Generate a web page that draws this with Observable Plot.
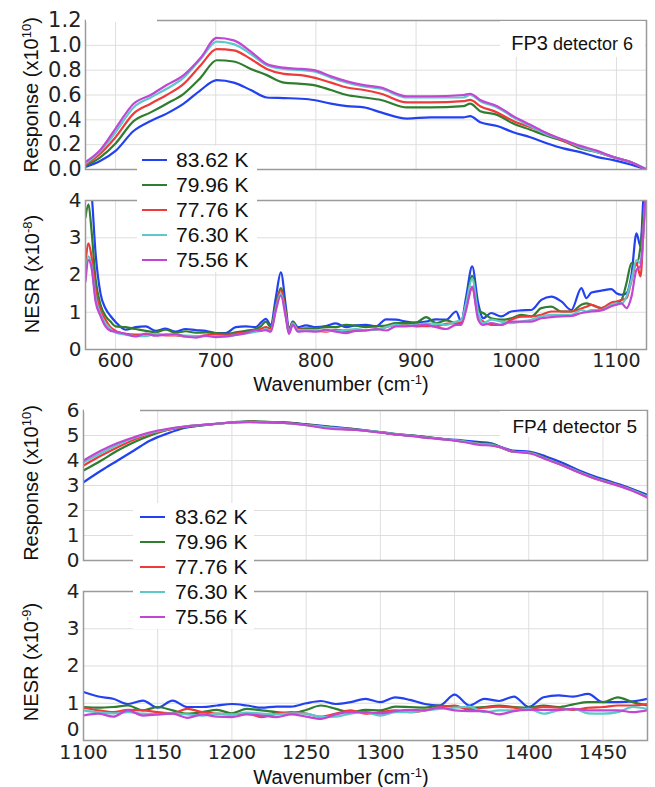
<!DOCTYPE html>
<html>
<head>
<meta charset="utf-8">
<script src="https://cdn.jsdelivr.net/npm/d3@7"></script>
<script src="https://cdn.jsdelivr.net/npm/@observablehq/plot@0.6"></script>
<style>
  body { margin: 0; background: #fff; }
  #wrap { position: relative; width: 655px; height: 787px; overflow: hidden; font-family: "Liberation Sans", Arial, sans-serif; color: #111; }
  #wrap svg { position: absolute; left: 0; }
  .ylab { position: absolute; transform: translate(-50%, -50%) rotate(-90deg); white-space: nowrap; font-size: 20px; line-height: 1; }
  .xlab { position: absolute; transform: translate(-50%, -50%); white-space: nowrap; font-size: 20px; line-height: 1; }
  sup { font-size: 65%; line-height: 0; vertical-align: 0.55em; }
  .box { position: absolute; background: #fff; z-index: 5; }
  .lrow { position: absolute; left: 0; height: 24px; }
  .lrow .smp { position: absolute; top: 11px; width: 25px; height: 2px; }
  .lrow .txt { position: absolute; top: 1px; font-size: 21px; line-height: 21px; white-space: nowrap; }
  .note { position: absolute; white-space: nowrap; line-height: 1; z-index: 6; color: #111; }
</style>
</head>
<body>
<div id="wrap"></div>
<script>
// ---------------- data ----------------
const seriesNames = ["83.62 K", "79.96 K", "77.76 K", "76.30 K", "75.56 K"];
const seriesColors = ["#2241f0", "#2f7d2f", "#ee3a3a", "#5cc8c8", "#c246d4"];

// FP3 detector 6 — Response (x10^10)
const resp1X = [570,585,600,618,635,651,668,685,701,718,735,751,768,785,798,815,831,848,865,891,914,947,954,964,981,997,1014,1031,1047,1064,1081,1097,1114,1130];
const resp1_8362 = [0.02,0.07,0.15,0.31,0.39,0.45,0.53,0.64,0.72,0.70,0.64,0.58,0.575,0.57,0.56,0.53,0.51,0.50,0.46,0.41,0.42,0.42,0.43,0.38,0.35,0.30,0.26,0.21,0.17,0.14,0.10,0.075,0.04,0.0];
const resp1_7996 = [0.03,0.10,0.21,0.39,0.46,0.53,0.61,0.74,0.88,0.87,0.81,0.76,0.70,0.69,0.68,0.64,0.60,0.58,0.56,0.50,0.50,0.51,0.53,0.47,0.44,0.37,0.32,0.27,0.23,0.17,0.14,0.10,0.06,0.0];
const resp1_7776 = [0.04,0.13,0.26,0.45,0.53,0.60,0.69,0.84,0.97,0.96,0.89,0.81,0.77,0.76,0.74,0.70,0.66,0.64,0.61,0.54,0.54,0.55,0.56,0.51,0.46,0.39,0.34,0.29,0.23,0.18,0.14,0.10,0.06,0.0];
const resp1_7630 = [0.05,0.15,0.30,0.50,0.58,0.65,0.74,0.89,1.03,1.01,0.93,0.84,0.81,0.80,0.79,0.74,0.70,0.67,0.65,0.58,0.58,0.58,0.60,0.55,0.50,0.42,0.35,0.28,0.24,0.18,0.14,0.10,0.06,0.0];
const resp1_7556 = [0.06,0.16,0.33,0.53,0.60,0.68,0.76,0.90,1.06,1.04,0.95,0.85,0.82,0.81,0.80,0.75,0.71,0.68,0.66,0.59,0.59,0.60,0.61,0.56,0.51,0.43,0.36,0.29,0.24,0.19,0.15,0.10,0.06,0.0];

// FP3 detector 6 — NESR (x10^-8)
const nesr1X = [570,573,576,580,585,590,595,600,610,620,630,640,650,660,670,680,690,700,710,720,730,740,745,750,755,760,765,770,773,777,782,790,800,810,820,830,840,850,860,870,880,890,900,910,920,930,940,945,950,956,962,967,975,985,995,1005,1015,1025,1035,1045,1055,1065,1070,1075,1085,1095,1100,1105,1110,1115,1120,1124,1127,1130];
const nesr1_8362 = [4.6,4.6,4.2,2.6,1.5,1.1,0.9,0.74,0.53,0.6,0.62,0.5,0.56,0.48,0.55,0.52,0.5,0.44,0.44,0.6,0.62,0.6,0.72,0.82,0.66,1.4,2.07,1.15,0.55,0.75,0.6,0.65,0.6,0.63,0.7,0.6,0.65,0.66,0.62,0.81,0.8,0.75,0.72,0.75,0.81,0.8,1.02,0.75,1.42,2.23,1.24,0.84,0.98,0.89,1.02,1.05,1.06,1.33,1.42,1.29,1.06,1.65,1.38,1.53,1.58,1.62,1.51,1.47,1.51,2.0,3.12,2.77,4.1,4.6];
const nesr1_7996 = [3.55,3.9,3.2,1.9,1.2,0.9,0.75,0.62,0.6,0.55,0.5,0.47,0.53,0.45,0.49,0.45,0.46,0.44,0.42,0.46,0.5,0.55,0.62,0.75,0.6,1.2,1.65,1.0,0.45,0.75,0.55,0.57,0.57,0.6,0.6,0.66,0.64,0.6,0.62,0.64,0.71,0.71,0.72,0.87,0.71,0.78,0.71,0.75,1.24,1.98,1.06,0.98,0.84,0.8,0.84,0.93,0.89,1.11,1.15,1.02,1.02,1.2,1.24,1.2,1.11,1.2,1.24,1.33,1.78,2.32,2.27,2.77,3.57,4.6];
const nesr1_7776 = [2.3,2.85,2.5,1.6,1.05,0.8,0.6,0.5,0.42,0.4,0.4,0.4,0.38,0.38,0.35,0.35,0.38,0.4,0.37,0.43,0.45,0.5,0.55,0.6,0.55,1.1,1.6,0.95,0.48,0.7,0.55,0.52,0.5,0.48,0.53,0.5,0.5,0.52,0.53,0.6,0.66,0.66,0.62,0.63,0.62,0.69,0.71,0.71,1.15,1.65,0.9,0.75,0.66,0.66,0.8,0.88,0.89,0.93,1.02,1.02,1.02,1.1,1.15,1.2,1.11,1.26,1.29,1.33,1.38,1.85,2.32,1.96,3.2,4.6];
const nesr1_7630 = [2.05,2.5,2.25,1.4,0.95,0.7,0.55,0.45,0.4,0.36,0.36,0.42,0.4,0.39,0.37,0.36,0.36,0.36,0.35,0.39,0.43,0.48,0.5,0.55,0.5,1.1,1.5,0.9,0.45,0.7,0.52,0.52,0.52,0.5,0.5,0.52,0.55,0.52,0.53,0.6,0.66,0.64,0.66,0.7,0.69,0.66,0.75,0.78,1.24,1.91,0.98,0.71,0.8,0.75,0.71,0.75,0.8,0.89,0.93,0.93,0.93,1.06,1.02,1.06,1.06,1.2,1.24,1.24,1.42,1.87,2.4,2.32,3.2,4.6];
const nesr1_7556 = [1.83,2.4,2.2,1.3,0.9,0.62,0.5,0.48,0.42,0.35,0.43,0.37,0.4,0.41,0.35,0.32,0.37,0.33,0.35,0.39,0.44,0.52,0.5,0.52,0.48,1.05,1.45,0.85,0.42,0.66,0.48,0.49,0.48,0.53,0.48,0.44,0.5,0.51,0.55,0.51,0.62,0.62,0.64,0.66,0.6,0.55,0.66,0.66,1.07,1.69,0.8,0.66,0.71,0.66,0.75,0.75,0.75,0.84,0.87,0.89,0.9,0.98,1.0,1.02,1.05,1.16,1.2,1.24,1.11,1.42,2.14,2.23,3.2,4.6];

// FP4 detector 5 — Response (x10^10)
const resp2X = [1100,1112,1123,1134,1145,1157,1168,1179,1190,1201,1212,1224,1235,1246,1266,1284,1300,1311,1322,1334,1345,1356,1367,1374,1381,1389,1401,1412,1423,1434,1446,1457,1468,1480];
const resp2_8362 = [3.13,3.6,4.0,4.4,4.8,5.09,5.3,5.4,5.47,5.53,5.56,5.53,5.53,5.47,5.36,5.25,5.13,5.04,5.0,4.92,4.85,4.80,4.74,4.70,4.55,4.40,4.35,4.15,3.9,3.6,3.33,3.12,2.9,2.62];
const resp2_7996 = [3.6,4.0,4.4,4.73,5.0,5.23,5.33,5.4,5.47,5.53,5.57,5.55,5.52,5.47,5.33,5.24,5.14,5.06,5.0,4.92,4.84,4.77,4.68,4.68,4.53,4.36,4.32,4.08,3.82,3.55,3.28,3.08,2.86,2.56];
const resp2_7776 = [3.8,4.2,4.53,4.83,5.07,5.23,5.35,5.42,5.47,5.52,5.55,5.53,5.5,5.45,5.30,5.22,5.12,5.04,4.98,4.9,4.84,4.75,4.66,4.62,4.52,4.36,4.3,4.05,3.8,3.52,3.25,3.07,2.85,2.52];
const resp2_7630 = [3.93,4.3,4.63,4.9,5.1,5.25,5.36,5.42,5.47,5.52,5.54,5.52,5.5,5.44,5.32,5.22,5.13,5.05,4.98,4.9,4.84,4.77,4.66,4.64,4.53,4.36,4.3,4.06,3.8,3.54,3.26,3.06,2.85,2.55];
const resp2_7556 = [4.0,4.4,4.7,4.93,5.13,5.27,5.36,5.42,5.47,5.52,5.53,5.52,5.5,5.44,5.27,5.22,5.12,5.04,4.97,4.89,4.83,4.74,4.62,4.60,4.53,4.36,4.28,4.04,3.8,3.52,3.25,3.05,2.83,2.52];

// FP4 detector 5 — NESR (x10^-9)
const nesr2X = [1100,1110,1120,1130,1140,1150,1160,1170,1180,1190,1200,1210,1220,1230,1240,1250,1260,1270,1280,1290,1300,1310,1320,1330,1340,1350,1360,1370,1380,1390,1400,1410,1420,1430,1440,1450,1460,1470,1480];
const nesr2_8362 = [1.30,1.18,1.12,0.98,1.07,0.88,1.07,0.90,0.90,0.94,0.98,0.94,0.88,0.91,0.91,1.00,1.06,0.98,1.03,1.12,1.03,1.16,1.09,0.98,0.94,1.23,0.94,1.12,1.06,1.18,0.90,1.16,1.21,1.18,1.25,1.03,1.03,1.05,1.12];
const nesr2_7996 = [0.90,0.88,0.90,0.94,0.81,0.90,0.81,0.72,0.76,0.82,0.73,0.85,0.81,0.76,0.73,0.82,0.94,0.85,0.76,0.82,0.81,0.91,0.90,0.88,0.94,0.90,0.88,0.90,0.94,0.90,0.88,0.94,0.90,0.97,1.03,1.03,1.16,1.03,0.94];
const nesr2_7776 = [0.88,0.81,0.76,0.82,0.81,0.76,0.73,0.85,0.76,0.72,0.70,0.73,0.63,0.72,0.76,0.72,0.64,0.72,0.81,0.72,0.76,0.81,0.76,0.81,0.90,0.94,0.82,0.88,0.91,0.88,0.85,0.90,0.88,0.82,0.88,0.90,0.94,0.94,0.98];
const nesr2_7630 = [0.81,0.76,0.73,0.76,0.72,0.70,0.73,0.70,0.67,0.72,0.70,0.75,0.72,0.70,0.73,0.72,0.63,0.64,0.72,0.76,0.67,0.76,0.76,0.81,0.85,0.88,0.91,0.76,0.81,0.81,0.85,0.72,0.81,0.85,0.73,0.72,0.76,0.90,0.85];
const nesr2_7556 = [0.67,0.72,0.64,0.81,0.67,0.70,0.72,0.61,0.70,0.64,0.63,0.70,0.67,0.63,0.70,0.64,0.58,0.70,0.76,0.76,0.73,0.79,0.82,0.81,0.88,0.81,0.79,0.79,0.70,0.79,0.82,0.82,0.82,0.85,0.81,0.81,0.81,0.76,0.81];

// tick labels
const xTicksTop = [600, 700, 800, 900, 1000, 1100];
const xTicksBottom = [1100, 1150, 1200, 1250, 1300, 1350, 1400, 1450];
const yTicksResp1 = [0, 0.2, 0.4, 0.6, 0.8, 1.0, 1.2];
const yTicksNesr = [0, 1, 2, 3, 4];
const yTicksResp2 = [0, 1, 2, 3, 4, 5, 6];

// ---------------- drawing ----------------
const wrap = document.getElementById("wrap");

function longTable(xs, seriesList) {
  const rows = [];
  seriesList.forEach((vals, i) => vals.forEach((v, j) => rows.push({x: xs[j], y: v, k: seriesNames[i]})));
  return rows;
}

function panel(cfg) {
  const yMain = cfg.liftZero ? cfg.yTicks.filter(d => d !== 0) : cfg.yTicks;
  const marks = [
    Plot.gridX(cfg.xTicks, {stroke: "#dedede", strokeOpacity: 1, strokeWidth: 1}),
    Plot.gridY(cfg.yTicks, {stroke: "#dedede", strokeOpacity: 1, strokeWidth: 1}),
    Plot.line(cfg.data, {x: "x", y: "y", z: "k", stroke: "k", strokeWidth: 2.2, curve: "monotone-x", clip: true}),
    Plot.frame({stroke: "#9a9a9a", strokeWidth: 1.5}),
    Plot.axisY(yMain, {anchor: "left", tickSize: 0, tickPadding: 4, fontSize: cfg.yFont, fill: "#222", label: null, tickFormat: cfg.yFmt})
  ];
  if (cfg.liftZero) {
    marks.push(Plot.axisY([0], {anchor: "left", tickSize: 0, tickPadding: 4, fontSize: cfg.yFont, fill: "#222", label: null, dy: -11, tickFormat: cfg.yFmt}));
  }
  if (cfg.showX) {
    marks.push(Plot.axisX(cfg.xTicks, {anchor: "bottom", tickSize: 0, tickPadding: cfg.xPad, fontSize: 19, fill: "#222", label: null, tickFormat: d => String(d)}));
  }
  const svg = Plot.plot({
    width: 655,
    height: cfg.height,
    marginLeft: cfg.ml,
    marginRight: cfg.mr,
    marginTop: cfg.mt,
    marginBottom: cfg.mb,
    style: {fontFamily: "'DejaVu Sans', sans-serif", fontSize: "19px", background: "transparent", overflow: "visible"},
    x: {domain: cfg.xDomain, axis: null},
    y: {domain: cfg.yDomain, axis: null},
    color: {domain: seriesNames, range: seriesColors},
    marks
  });
  svg.style.top = cfg.top + "px";
  wrap.appendChild(svg);
}

panel({top: 0, height: 180, ml: 85, mr: 9, mt: 20, mb: 11, xDomain: [570, 1130], yDomain: [0, 1.2],
  xTicks: xTicksTop, yTicks: yTicksResp1, yFmt: d3.format(".1f"), yFont: 21, showX: false,
  data: longTable(resp1X, [resp1_8362, resp1_7996, resp1_7776, resp1_7630, resp1_7556])});

panel({top: 180, height: 210, ml: 85, mr: 9, mt: 20, mb: 41, xDomain: [570, 1130], yDomain: [0, 4],
  xTicks: xTicksTop, yTicks: yTicksNesr, yFmt: d => String(d), yFont: 20, showX: true, xPad: 4,
  data: longTable(nesr1X, [nesr1_8362, nesr1_7996, nesr1_7776, nesr1_7630, nesr1_7556])});

panel({top: 390, height: 180, ml: 83, mr: 8, mt: 20, mb: 10, xDomain: [1100, 1480], yDomain: [0, 6],
  xTicks: xTicksBottom, yTicks: yTicksResp2, yFmt: d => String(d), yFont: 20, showX: false,
  data: longTable(resp2X, [resp2_8362, resp2_7996, resp2_7776, resp2_7630, resp2_7556])});

panel({top: 570, height: 217, ml: 83, mr: 8, mt: 21, mb: 47, xDomain: [1100, 1480], yDomain: [0, 4],
  xTicks: xTicksBottom, yTicks: yTicksNesr, yFmt: d => String(d), yFont: 20, showX: true, xPad: 5, liftZero: true,
  data: longTable(nesr2X, [nesr2_8362, nesr2_7996, nesr2_7776, nesr2_7630, nesr2_7556])});

// axis titles
function addLabel(cls, html, cx, cy) {
  const d = document.createElement("div");
  d.className = cls;
  d.innerHTML = html;
  d.style.left = cx + "px";
  d.style.top = cy + "px";
  wrap.appendChild(d);
}
addLabel("ylab", "Response (x10<sup>10</sup>)", 31, 95);
addLabel("ylab", "NESR (x10<sup>-8</sup>)", 32, 274);
addLabel("ylab", "Response (x10<sup>10</sup>)", 31, 483);
addLabel("ylab", "NESR (x10<sup>-9</sup>)", 31, 662);
addLabel("xlab", "Wavenumber (cm<sup>-1</sup>)", 341, 384);
addLabel("xlab", "Wavenumber (cm<sup>-1</sup>)", 341, 777);

// small white covers present in the original figure
function addBox(l, t, w, h) {
  const b = document.createElement("div");
  b.className = "box";
  Object.assign(b.style, {left: l + "px", top: t + "px", width: w + "px", height: h + "px"});
  wrap.appendChild(b);
  return b;
}
addBox(86, 17, 71, 5);
addBox(84, 407, 56, 5);

// legends
function legend(l, t, w, h, sampleLeft, textLeft) {
  const b = addBox(l, t, w, h);
  seriesNames.forEach((name, i) => {
    const r = document.createElement("div");
    r.className = "lrow";
    r.style.top = (2 + i * 25) + "px";
    r.style.width = w + "px";
    const s = document.createElement("div");
    s.className = "smp";
    s.style.left = sampleLeft + "px";
    s.style.background = seriesColors[i];
    const tx = document.createElement("div");
    tx.className = "txt";
    tx.style.left = textLeft + "px";
    tx.textContent = name;
    r.appendChild(s);
    r.appendChild(tx);
    b.appendChild(r);
  });
}
legend(137, 146, 120, 126, 5, 39);
legend(133, 503, 121, 126, 7, 42);

// panel annotations
addBox(500, 21, 145, 36);
const n1 = document.createElement("div");
n1.className = "note";
n1.style.right = "22px";
n1.style.top = "33px";
n1.innerHTML = '<span style="font-size:20px">FP3</span><span style="font-size:18px"> detector 6</span>';
wrap.appendChild(n1);

addBox(500, 411, 146, 26);
const n2 = document.createElement("div");
n2.className = "note";
n2.style.right = "18px";
n2.style.top = "417px";
n2.style.fontSize = "19px";
n2.textContent = "FP4 detector 5";
wrap.appendChild(n2);
</script>
</body>
</html>
